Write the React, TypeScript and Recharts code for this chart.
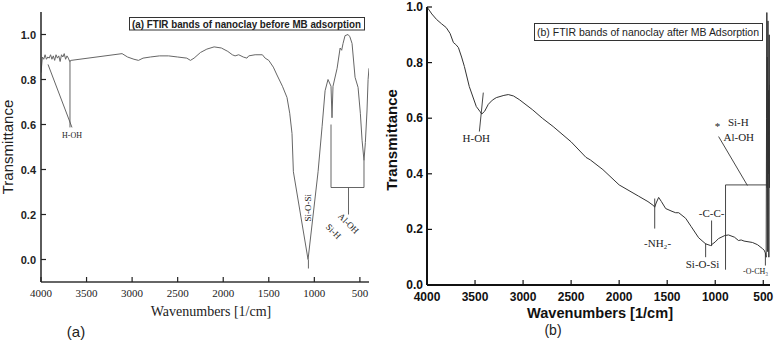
import { LineChart, Line, XAxis, YAxis, ReferenceLine, ReferenceDot } from 'recharts';

// (a) nanoclay before MB adsorption
const wavenumbersA = [
  4000, 3985, 3970, 3955, 3940, 3925, 3910, 3895, 3880, 3865, 3850, 3835, 3820, 3805, 3790,
  3775, 3760, 3745, 3730, 3715, 3700, 3685, 3670, 3110, 3050, 2980, 2930, 2880, 2800, 2700,
  2600, 2500, 2400, 2360, 2320, 2250, 2180, 2100, 2020, 1950, 1900, 1870, 1830, 1780, 1740,
  1720, 1650, 1570, 1540, 1500, 1450, 1410, 1350, 1300, 1270, 1245, 1230, 1069, 959, 915,
  882, 850, 817, 806, 795, 750, 717, 700, 685, 663, 630, 610, 586, 553, 520, 495, 476, 455,
  440, 422, 410, 400,
];
const transmittanceA = [
  0.83, 0.9, 0.89, 0.91, 0.89, 0.9, 0.895, 0.91, 0.89, 0.905, 0.885, 0.91, 0.895, 0.905, 0.88,
  0.91, 0.9, 0.915, 0.89, 0.905, 0.895, 0.88, 0.885, 0.915, 0.9, 0.89, 0.885, 0.895, 0.9, 0.905,
  0.905, 0.9, 0.895, 0.885, 0.895, 0.92, 0.935, 0.945, 0.94, 0.925, 0.91, 0.905, 0.91, 0.9, 0.895,
  0.905, 0.91, 0.91, 0.895, 0.885, 0.855, 0.82, 0.77, 0.72, 0.65, 0.56, 0.39, 0.0, 0.39, 0.59,
  0.75, 0.8, 0.77, 0.63, 0.77, 0.85, 0.94, 0.93, 0.96, 0.995, 1.0, 0.99, 0.96, 0.81, 0.765, 0.65,
  0.53, 0.44, 0.52, 0.66, 0.8, 0.85,
];

// (b) nanoclay after MB adsorption
const wavenumbersB = [
  4000, 3950, 3900, 3850, 3800, 3760, 3725, 3700, 3673, 3640, 3611, 3560, 3487, 3450, 3430,
  3400, 3362, 3320, 3279, 3200, 3154, 3100, 3040, 2900, 2800, 2687, 2500, 2345, 2300, 2169,
  2000, 1800, 1700, 1640, 1630, 1615, 1589, 1560, 1516, 1450, 1412, 1380, 1308, 1250, 1173,
  1100, 1049, 1000, 966, 900, 862, 800, 758, 730, 700, 613, 560, 509, 490, 478, 470, 466, 463,
  460, 457, 454, 451, 448, 445, 442, 438, 435, 432,
];
const transmittanceB = [
  1.0, 0.975, 0.955, 0.94, 0.926, 0.905, 0.872, 0.865, 0.854, 0.82, 0.786, 0.714, 0.642, 0.625, 0.615,
  0.625, 0.65, 0.665, 0.674, 0.682, 0.685, 0.68, 0.667, 0.63, 0.6, 0.57, 0.515, 0.459, 0.45, 0.415,
  0.36, 0.32, 0.3, 0.285, 0.28, 0.295, 0.315, 0.3, 0.275, 0.265, 0.26, 0.26, 0.24, 0.21, 0.17,
  0.148, 0.142, 0.155, 0.167, 0.178, 0.18, 0.172, 0.16, 0.162, 0.158, 0.153, 0.145, 0.131, 0.125, 0.115, 0.1, 0.6, 0.98,
  0.35, 0.82, 0.12, 0.95, 0.4, 0.7, 0.1, 0.9, 0.35, 0.72,
];

const xTicks = [4000, 3500, 3000, 2500, 2000, 1500, 1000, 500];
const yTicksA = [0, 0.2, 0.4, 0.6, 0.8, 1.0];
const yTicksB = [0, 0.2, 0.4, 0.6, 0.8, 1.0];

// band annotation leader lines [w1, t1, w2, t2]
const bandLinesA = [
  [3923, 0.867, 3660, 0.587],
  [3682, 0.885, 3682, 0.587],
  [1065, 0.0, 1065, -0.04],
  [817, 0.6, 817, 0.32],
  [817, 0.32, 455, 0.32],
  [455, 0.32, 455, 0.44],
  [625, 0.32, 625, 0.2],
];
const bandLabelsA = [
  { w: 3660, t: 0.55, text: 'H-OH', rot: 0, size: 8 },
  { w: 1069, t: 0.23, text: 'Si-O-Si', rot: -90, size: 9 },
  { w: 625, t: 0.16, text: 'Al-OH', rot: 45, size: 9 },
  { w: 790, t: 0.125, text: 'Si-H', rot: 45, size: 9 },
];

const bandLinesB = [
  [3414, 0.692, 3455, 0.552],
  [1630, 0.311, 1630, 0.203],
  [1100, 0.15, 1100, 0.1],
  [1038, 0.232, 1038, 0.14],
  [893, 0.36, 893, 0.055],
  [893, 0.36, 445, 0.36],
  [665, 0.358, 965, 0.534],
  [478, 0.115, 478, 0.07],
];
const bandLabelsB = [
  { w: 3487, t: 0.527, text: 'H-OH', rot: 0, size: 11 },
  { w: 1600, t: 0.152, text: '-NH₂-', rot: 0, size: 11 },
  { w: 1132, t: 0.077, text: 'Si-O-Si', rot: 0, size: 11 },
  { w: 1038, t: 0.26, text: '-C-C-', rot: 0, size: 11 },
  { w: 976, t: 0.572, text: '*', rot: 0, size: 11 },
  { w: 760, t: 0.585, text: 'Si-H', rot: 0, size: 11 },
  { w: 755, t: 0.534, text: 'Al-OH', rot: 0, size: 11 },
  { w: 580, t: 0.048, text: '-O-CH₃', rot: 0, size: 8 },
];

const dataA = wavenumbersA.map((w, i) => ({ w, t: transmittanceA[i] }));
const dataB = wavenumbersB.map((w, i) => ({ w, t: transmittanceB[i] }));

const SANS = '"Liberation Sans", Arial, sans-serif';
const SERIF = '"Liberation Serif", "Times New Roman", serif';

function BottomTickA({ x, y, payload }: any) {
  return (
    <g>
      <line x1={x} x2={x} y1={y} y2={y - 5} stroke="#222" strokeWidth={1.2} />
      <text x={x} y={y + 15} textAnchor="middle" fontFamily={SERIF} fontSize={11} fill="#222">
        {payload.value}
      </text>
    </g>
  );
}

function LeftTickA({ x, y, payload }: any) {
  return (
    <g>
      <line x1={x} x2={x + 5} y1={y} y2={y} stroke="#222" strokeWidth={1.2} />
      <text x={x - 5} y={y + 4} textAnchor="end" fontFamily={SANS} fontWeight="bold" fontSize={11} fill="#222">
        {payload.value.toFixed(1)}
      </text>
    </g>
  );
}

function BottomTickB({ x, y, payload }: any) {
  return (
    <g>
      <line x1={x} x2={x} y1={y} y2={y - 5} stroke="#111" strokeWidth={1.2} />
      <text x={x} y={y + 16} textAnchor="middle" fontFamily={SANS} fontWeight="bold" fontSize={12} fill="#111">
        {payload.value}
      </text>
    </g>
  );
}

function LeftTickB({ x, y, payload }: any) {
  return (
    <g>
      <line x1={x} x2={x + 5} y1={y} y2={y} stroke="#111" strokeWidth={1.2} />
      <text x={x - 4} y={y + 4} textAnchor="end" fontFamily={SANS} fontWeight="bold" fontSize={12} fill="#111">
        {payload.value.toFixed(1)}
      </text>
    </g>
  );
}

function bandText(label: { text: string; rot: number; size: number }) {
  return (p: any) => (
    <text
      x={p.cx}
      y={p.cy}
      textAnchor="middle"
      dominantBaseline="central"
      fontFamily={SERIF}
      fontSize={label.size}
      fill="#222"
      transform={label.rot ? `rotate(${label.rot}, ${p.cx}, ${p.cy})` : undefined}
    >
      {label.text}
    </text>
  );
}

const frameA = { stroke: '#333', strokeWidth: 1.6 };
const frameB = { stroke: '#111', strokeWidth: 2 };

export default function App() {
  return (
    <div style={{ position: 'absolute', left: 0, top: 0, width: 776, height: 342, background: '#fff' }}>
      <div style={{ position: 'absolute', left: 0, top: 0 }}>
        <LineChart width={385} height={342} data={dataA} margin={{ top: 12, right: 16, bottom: 0, left: 0 }}>
          <XAxis type="number" dataKey="w" domain={[400, 4000]} reversed ticks={xTicks} interval={0}
            tickSize={0} tickMargin={0} tickLine={false} tick={BottomTickA} height={60} axisLine={frameA} allowDataOverflow />
          <XAxis xAxisId="top" orientation="top" type="number" domain={[400, 4000]} reversed
            tick={false} tickLine={false} height={0} axisLine={frameA} />
          <YAxis type="number" domain={[-0.1, 1.1]} ticks={yTicksA} interval={0} tickSize={0} tickMargin={0}
            tickLine={false} tick={LeftTickA} width={41} axisLine={frameA} allowDataOverflow />
          <YAxis yAxisId="r" orientation="right" type="number" domain={[-0.1, 1.1]}
            tick={false} tickLine={false} width={0} axisLine={frameA} />
          {bandLinesA.map((s, i) => (
            <ReferenceLine key={'la' + i} segment={[{ x: s[0], y: s[1] }, { x: s[2], y: s[3] }]}
              stroke="#555" strokeWidth={0.9} ifOverflow="visible" />
          ))}
          <Line dataKey="t" type="linear" stroke="#666" strokeWidth={1} dot={false} isAnimationActive={false} />
          {bandLabelsA.map((l, i) => (
            <ReferenceDot key={'ta' + i} x={l.w} y={l.t} r={1} ifOverflow="visible" shape={bandText(l)} />
          ))}
        </LineChart>
      </div>
      <div style={{ position: 'absolute', left: 385, top: 0 }}>
        <LineChart width={391} height={342} data={dataB} margin={{ top: 7, right: 6, bottom: 0, left: 0 }}>
          <XAxis type="number" dataKey="w" domain={[430, 4000]} reversed ticks={xTicks} interval={0}
            tickSize={0} tickMargin={0} tickLine={false} tick={BottomTickB} height={57} axisLine={frameB} allowDataOverflow />
          <XAxis xAxisId="top" orientation="top" type="number" domain={[430, 4000]} reversed
            tick={false} tickLine={false} height={0} axisLine={frameB} />
          <YAxis type="number" domain={[0, 1]} ticks={yTicksB} interval={0} tickSize={0} tickMargin={0}
            tickLine={false} tick={LeftTickB} width={42} axisLine={frameB} allowDataOverflow />
          <YAxis yAxisId="r" orientation="right" type="number" domain={[0, 1]}
            tick={false} tickLine={false} width={0} axisLine={frameB} />
          {bandLinesB.map((s, i) => (
            <ReferenceLine key={'lb' + i} segment={[{ x: s[0], y: s[1] }, { x: s[2], y: s[3] }]}
              stroke="#333" strokeWidth={0.9} ifOverflow="visible" />
          ))}
          <Line dataKey="t" type="linear" stroke="#333" strokeWidth={1} dot={false} isAnimationActive={false} />
          {bandLabelsB.map((l, i) => (
            <ReferenceDot key={'tb' + i} x={l.w} y={l.t} r={1} ifOverflow="visible" shape={bandText(l)} />
          ))}
        </LineChart>
      </div>
      <svg width={776} height={342} style={{ position: 'absolute', left: 0, top: 0, pointerEvents: 'none' }}>
        <rect x={129.5} y={17.5} width={235} height={12.5} fill="#fff" stroke="#333" strokeWidth={1} />
        <text x={132} y={27.5} fontFamily={SANS} fontWeight="bold" fontSize={10} fill="#222"
          textLength={229} lengthAdjust="spacingAndGlyphs">(a) FTIR bands of nanoclay before MB adsorption</text>
        <rect x={534.5} y={23.5} width={228} height={17} fill="#fff" stroke="#333" strokeWidth={1} />
        <text x={537} y={36} fontFamily={SANS} fontSize={11} fill="#222"
          textLength={222} lengthAdjust="spacingAndGlyphs">(b) FTIR bands of nanoclay after MB Adsorption</text>
        <text x={13} y={147} transform="rotate(-90, 13, 147)" textAnchor="middle" fontFamily={SANS} fontSize={15} fill="#222">Transmittance</text>
        <text x={397} y={140} transform="rotate(-90, 397, 140)" textAnchor="middle" fontFamily={SANS} fontWeight="bold" fontSize={15} fill="#111">Transmittance</text>
        <text x={211} y={316} textAnchor="middle" fontFamily={SERIF} fontSize={14} fill="#222">Wavenumbers [1/cm]</text>
        <text x={600} y={318} textAnchor="middle" fontFamily={SANS} fontWeight="bold" fontSize={15} fill="#111"
          textLength={146} lengthAdjust="spacingAndGlyphs">Wavenumbers [1/cm]</text>
        <text x={76} y={337} textAnchor="middle" fontFamily={SANS} fontSize={15} fill="#222">(a)</text>
        <text x={553} y={335} textAnchor="middle" fontFamily={SANS} fontSize={14} fill="#222">(b)</text>
      </svg>
    </div>
  );
}
